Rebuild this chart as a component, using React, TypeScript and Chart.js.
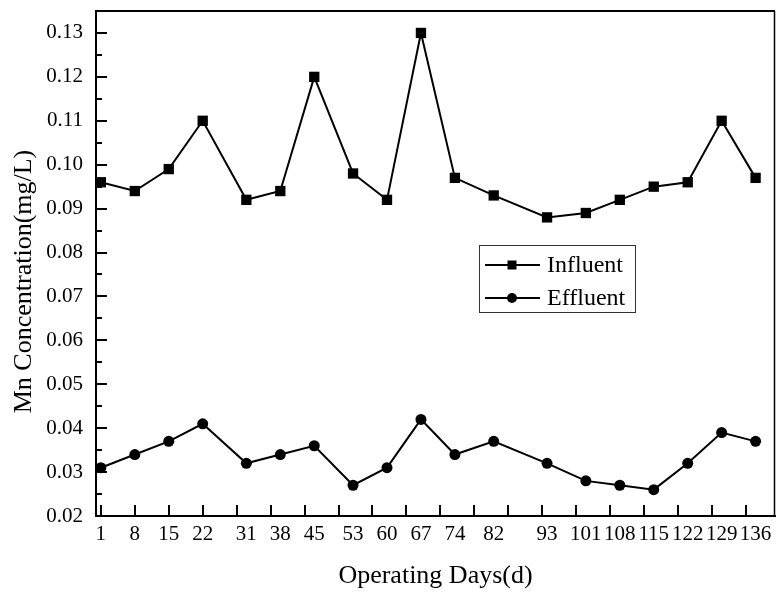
import React, { useEffect, useRef } from 'react';
import { Chart, registerables } from 'chart.js';

Chart.register(...registerables);

// ---- Data ----
const days = [1, 8, 15, 22, 31, 38, 45, 53, 60, 67, 74, 82, 93, 101, 108, 115, 122, 129, 136];
const influent = [0.096, 0.094, 0.099, 0.110, 0.092, 0.094, 0.120, 0.098, 0.092, 0.130, 0.097, 0.093, 0.088, 0.089, 0.092, 0.095, 0.096, 0.110, 0.097];
const effluent = [0.031, 0.034, 0.037, 0.041, 0.032, 0.034, 0.036, 0.027, 0.031, 0.042, 0.034, 0.037, 0.032, 0.028, 0.027, 0.026, 0.032, 0.039, 0.037];
const xTickMarks = [1, 8, 15, 22, 29, 36, 43, 50, 57, 64, 71, 78, 85, 92, 99, 106, 113, 120, 127, 134];
const yTickValues = [0.02, 0.03, 0.04, 0.05, 0.06, 0.07, 0.08, 0.09, 0.10, 0.11, 0.12, 0.13];
const yMinorValues = [0.025, 0.035, 0.045, 0.055, 0.065, 0.075, 0.085, 0.095, 0.105, 0.115, 0.125];

const xTitle = 'Operating Days(d)';
const yTitle = 'Mn Concentration(mg/L)';
const seriesLabels = ['Influent', 'Effluent'];

const FONT = '"Liberation Serif", "Times New Roman", serif';

const framePlugin = {
  id: 'frameAndTicks',
  afterDraw(chart: any) {
    const { ctx, chartArea, scales } = chart;
    const { left, right, top, bottom } = chartArea;
    ctx.save();
    ctx.strokeStyle = '#000';
    ctx.lineCap = 'butt';
    // top & right frame
    ctx.lineWidth = 2;
    ctx.beginPath();
    ctx.moveTo(left - 1, top);
    ctx.lineTo(right, top);
    ctx.stroke();
    ctx.lineWidth = 1.5;
    ctx.beginPath();
    ctx.moveTo(right - 0.5, top);
    ctx.lineTo(right - 0.5, bottom);
    ctx.stroke();
    // x tick marks (inward)
    ctx.lineWidth = 2;
    xTickMarks.forEach((v) => {
      const px = Math.round(scales.x.getPixelForValue(v));
      ctx.beginPath();
      ctx.moveTo(px, bottom);
      ctx.lineTo(px, bottom - 11);
      ctx.stroke();
    });
    // y tick marks (inward)
    yTickValues.forEach((v) => {
      const py = Math.round(scales.y.getPixelForValue(v));
      ctx.beginPath();
      ctx.moveTo(left, py);
      ctx.lineTo(left + 11, py);
      ctx.stroke();
    });
    yMinorValues.forEach((v) => {
      const py = Math.round(scales.y.getPixelForValue(v));
      ctx.beginPath();
      ctx.moveTo(left, py);
      ctx.lineTo(left + 6, py);
      ctx.stroke();
    });
    // y title
    ctx.fillStyle = '#000';
    ctx.font = `26px ${FONT}`;
    ctx.textAlign = 'center';
    ctx.textBaseline = 'middle';
    ctx.translate(24, (top + bottom) / 2 + 18);
    ctx.rotate(-Math.PI / 2);
    ctx.fillText(yTitle, 0, 0);
    ctx.restore();
  },
};

const legendPlugin = {
  id: 'boxLegend',
  afterDraw(chart: any) {
    const { ctx, chartArea } = chart;
    const bx = chartArea.left + 383;
    const by = chartArea.top + 234;
    const bw = 156;
    const bh = 67;
    ctx.save();
    ctx.fillStyle = '#fff';
    ctx.fillRect(bx, by, bw, bh);
    ctx.strokeStyle = '#333';
    ctx.lineWidth = 1;
    ctx.strokeRect(bx + 0.5, by + 0.5, bw, bh);
    chart.data.datasets.forEach((ds: any, i: number) => {
      const y = by + 20 + i * 33;
      ctx.strokeStyle = '#000';
      ctx.lineWidth = 2;
      ctx.beginPath();
      ctx.moveTo(bx + 6, y);
      ctx.lineTo(bx + 61, y);
      ctx.stroke();
      ctx.fillStyle = '#000';
      if (ds.pointStyle === 'rect') {
        ctx.fillRect(bx + 33 - 4.5, y - 4.5, 9, 9);
      } else {
        ctx.beginPath();
        ctx.arc(bx + 33, y, 5, 0, Math.PI * 2);
        ctx.fill();
      }
      ctx.font = `24px ${FONT}`;
      ctx.textAlign = 'left';
      ctx.textBaseline = 'middle';
      ctx.fillText(ds.label, bx + 68, y + 1);
    });
    ctx.restore();
  },
};

export default function App() {
  const canvasRef = useRef<HTMLCanvasElement | null>(null);

  useEffect(() => {
    if (!canvasRef.current) return;
    const chart = new Chart(canvasRef.current, {
      type: 'line',
      data: {
        datasets: [
          {
            label: seriesLabels[0],
            data: days.map((d, i) => ({ x: d, y: influent[i] })),
            borderColor: '#000',
            backgroundColor: '#000',
            borderWidth: 2,
            pointStyle: 'rect',
            pointRadius: 7.3,
            pointBackgroundColor: '#000',
            pointBorderColor: '#000',
            pointBorderWidth: 0,
            tension: 0,
            clip: false,
          },
          {
            label: seriesLabels[1],
            data: days.map((d, i) => ({ x: d, y: effluent[i] })),
            borderColor: '#000',
            backgroundColor: '#000',
            borderWidth: 2,
            pointStyle: 'circle',
            pointRadius: 5.5,
            pointBackgroundColor: '#000',
            pointBorderColor: '#000',
            pointBorderWidth: 0,
            tension: 0,
            clip: false,
          },
        ],
      },
      options: {
        animation: false,
        responsive: false,
        layout: { autoPadding: false, padding: { top: 11, right: 1, left: 0, bottom: 0 } },
        plugins: {
          legend: { display: false },
          tooltip: { enabled: false },
        },
        scales: {
          x: {
            type: 'linear',
            min: 0,
            max: 140,
            afterBuildTicks: (s: any) => {
              s.ticks = days.map((v) => ({ value: v }));
            },
            afterFit: (s: any) => {
              s.height = 78;
              s.paddingLeft = 0;
              s.paddingRight = 0;
            },
            grid: { display: false, drawTicks: false },
            border: { display: true, color: '#000', width: 2 },
            ticks: {
              autoSkip: false,
              maxRotation: 0,
              minRotation: 0,
              padding: 6,
              color: '#000',
              font: { family: FONT, size: 21 },
              callback: (v: any) => String(v),
            },
            title: {
              display: true,
              text: xTitle,
              color: '#000',
              font: { family: FONT, size: 26 },
              padding: { top: 0, bottom: 2 },
            },
          },
          y: {
            type: 'linear',
            min: 0.02,
            max: 0.135,
            afterBuildTicks: (s: any) => {
              s.ticks = yTickValues.map((v) => ({ value: v }));
            },
            afterFit: (s: any) => {
              s.width = 96;
              s.paddingTop = 0;
              s.paddingBottom = 0;
            },
            grid: { display: false, drawTicks: false },
            border: { display: true, color: '#000', width: 2 },
            ticks: {
              padding: 13,
              color: '#000',
              font: { family: FONT, size: 21 },
              callback: (v: any) => Number(v).toFixed(2),
            },
          },
        },
      },
      plugins: [framePlugin, legendPlugin],
    } as any);
    return () => chart.destroy();
  }, []);

  return (
    <div style={{ position: 'absolute', left: 0, top: 0, width: 776, height: 594, background: '#fff' }}>
      <canvas ref={canvasRef} width={776} height={594} style={{ display: 'block' }} />
    </div>
  );
}
